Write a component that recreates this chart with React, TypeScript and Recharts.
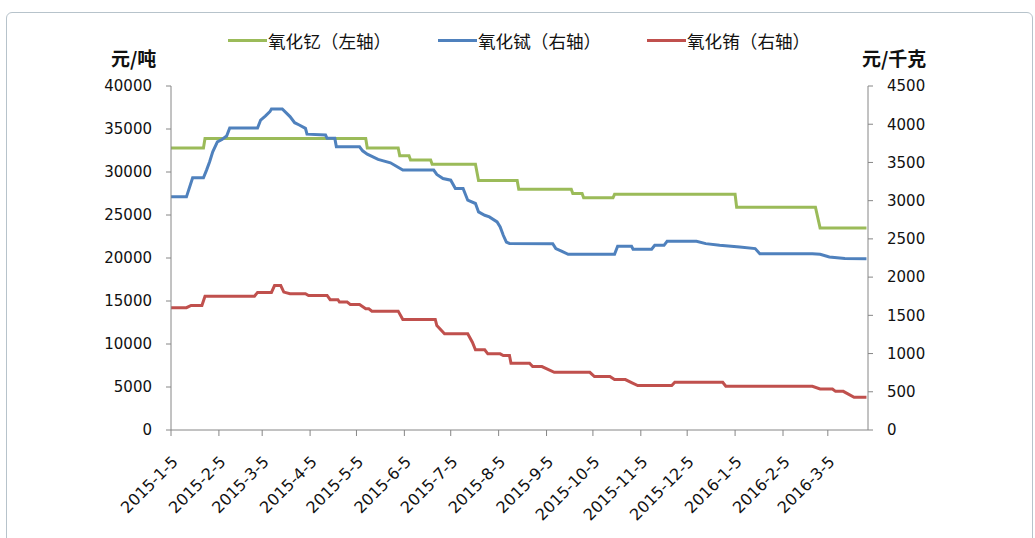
import { LineChart, Line, XAxis, YAxis } from 'recharts'

// x axis: date labels (monthly ticks)
const tickDates = [
  '2015-1-5', '2015-2-5', '2015-3-5', '2015-4-5', '2015-5-5', '2015-6-5', '2015-7-5', '2015-8-5',
  '2015-9-5', '2015-10-5', '2015-11-5', '2015-12-5', '2016-1-5', '2016-2-5', '2016-3-5',
]
const endDate = '2016-3-31'

const leftTicks = [0, 5000, 10000, 15000, 20000, 25000, 30000, 35000, 40000]
const rightTicks = [0, 500, 1000, 1500, 2000, 2500, 3000, 3500, 4000, 4500]

// 氧化钇 (元/吨, left axis)
const yttriumDates = [
  '2015-1-5', '2015-1-26', '2015-1-27', '2015-5-11', '2015-5-12', '2015-6-1', '2015-6-2', '2015-6-8',
  '2015-6-9', '2015-6-22', '2015-6-23', '2015-7-21', '2015-7-23', '2015-8-17', '2015-8-18', '2015-9-21',
  '2015-9-22', '2015-9-28', '2015-9-29', '2015-10-18', '2015-10-19', '2016-1-5', '2016-1-6', '2016-2-26',
  '2016-2-29', '2016-3-30',
]
const yttriumValues = [
  32800, 32800, 33900, 33900, 32800, 32800, 31900, 31900,
  31400, 31400, 30900, 30900, 29000, 29000, 28000, 28000,
  27500, 27500, 27000, 27000, 27400, 27400, 25900, 25900,
  23500, 23500,
]

// 氧化铽 (元/千克, right axis)
const terbiumDates = [
  '2015-1-5', '2015-1-15', '2015-1-19', '2015-1-26', '2015-1-28', '2015-1-30', '2015-2-1', '2015-2-4',
  '2015-2-7', '2015-2-10', '2015-2-12', '2015-3-2', '2015-3-4', '2015-3-7', '2015-3-10', '2015-3-11',
  '2015-3-18', '2015-3-23', '2015-3-26', '2015-3-29', '2015-4-2', '2015-4-3', '2015-4-15', '2015-4-16',
  '2015-4-21', '2015-4-22', '2015-5-7', '2015-5-9', '2015-5-12', '2015-5-19', '2015-5-27', '2015-6-4',
  '2015-6-24', '2015-6-26', '2015-6-30', '2015-7-5', '2015-7-8', '2015-7-13', '2015-7-16', '2015-7-21',
  '2015-7-23', '2015-7-27', '2015-7-30', '2015-8-4', '2015-8-6', '2015-8-8', '2015-8-10', '2015-8-12',
  '2015-9-9', '2015-9-11', '2015-9-15', '2015-9-19', '2015-10-19', '2015-10-21', '2015-10-30', '2015-10-31',
  '2015-11-12', '2015-11-14', '2015-11-20', '2015-11-22', '2015-12-11', '2015-12-17', '2015-12-26', '2016-1-8',
  '2016-1-18', '2016-1-21', '2016-2-24', '2016-2-29', '2016-3-6', '2016-3-16', '2016-3-30',
]
const terbiumValues = [
  3050, 3050, 3300, 3300, 3400, 3510, 3640, 3770,
  3800, 3845, 3950, 3950, 4055, 4107, 4164, 4200,
  4200, 4100, 4020, 3990, 3946, 3870, 3858, 3815,
  3815, 3705, 3705, 3652, 3609, 3540, 3495, 3400,
  3400, 3343, 3290, 3268, 3159, 3159, 3006, 2963,
  2853, 2809, 2787, 2722, 2656, 2547, 2459, 2440,
  2438, 2373, 2337, 2298, 2298, 2403, 2403, 2364,
  2364, 2416, 2416, 2469, 2469, 2438, 2416, 2394,
  2373, 2307, 2307, 2298, 2263, 2242, 2240,
]

// 氧化铕 (元/千克, right axis)
const europiumDates = [
  '2015-1-5', '2015-1-15', '2015-1-18', '2015-1-25', '2015-1-27', '2015-2-28', '2015-3-2', '2015-3-11',
  '2015-3-13', '2015-3-17', '2015-3-19', '2015-3-23', '2015-4-2', '2015-4-4', '2015-4-16', '2015-4-18',
  '2015-4-23', '2015-4-24', '2015-4-29', '2015-5-1', '2015-5-7', '2015-5-11', '2015-5-13', '2015-5-15',
  '2015-6-1', '2015-6-4', '2015-6-25', '2015-6-26', '2015-7-1', '2015-7-16', '2015-7-19', '2015-7-21',
  '2015-7-27', '2015-7-29', '2015-8-6', '2015-8-8', '2015-8-12', '2015-8-13', '2015-8-25', '2015-8-27',
  '2015-9-2', '2015-9-10', '2015-10-3', '2015-10-6', '2015-10-16', '2015-10-19', '2015-10-26', '2015-10-30',
  '2015-11-3', '2015-11-25', '2015-11-27', '2015-12-28', '2015-12-30', '2016-2-24', '2016-2-29', '2016-3-8',
  '2016-3-10', '2016-3-15', '2016-3-22', '2016-3-30',
]
const europiumValues = [
  1600, 1600, 1630, 1630, 1750, 1750, 1800, 1800,
  1890, 1890, 1804, 1783, 1783, 1760, 1760, 1704,
  1704, 1673, 1673, 1643, 1643, 1586, 1586, 1555,
  1555, 1446, 1446, 1367, 1258, 1258, 1148, 1049,
  1049, 996, 996, 974, 974, 873, 873, 830,
  830, 755, 755, 699, 699, 659, 659, 620,
  581, 581, 624, 624, 572, 572, 537, 537,
  506, 506, 427, 427,
]

const DAY = 86400000
const toDay = (s: string) => {
  const [y, m, d] = s.split('-').map(Number)
  return Math.round((Date.UTC(y, m - 1, d) - Date.UTC(2015, 0, 5)) / DAY)
}
const build = (dates: string[], values: number[]) => dates.map((d, i) => ({ day: toDay(d), v: values[i] }))

const tickDays = tickDates.map(toDay)
const labelByDay: Record<number, string> = {}
tickDates.forEach((d) => { labelByDay[toDay(d)] = d })

const series = [
  { name: '氧化钇（左轴）', color: '#9bbb59', axis: 'left', data: build(yttriumDates, yttriumValues) },
  { name: '氧化铽（右轴）', color: '#4f81bd', axis: 'right', data: build(terbiumDates, terbiumValues) },
  { name: '氧化铕（右轴）', color: '#c0504d', axis: 'right', data: build(europiumDates, europiumValues) },
]

const axisColor = '#868686'
const tickFont = { fontSize: 15, fontFamily: 'DejaVu Sans', fill: '#111' }
const cjk = '"Noto Sans CJK SC", sans-serif'

const DateTick = ({ x, y, payload }: any) => (
  <text
    x={x + 4}
    y={y + 21}
    transform={`rotate(-45, ${x + 4}, ${y + 21})`}
    textAnchor="end"
    dominantBaseline="central"
    fontSize={16}
    fontFamily="DejaVu Sans"
    fill="#111"
  >
    {labelByDay[payload.value]}
  </text>
)

const legendX = [228, 438, 647]

export default function App() {
  return (
    <div style={{ position: 'absolute', left: 0, top: 0, width: 1035, height: 538, background: '#fff', overflow: 'hidden' }}>
      <div style={{ position: 'absolute', left: 6, top: 12, width: 1027, height: 540, border: '1.5px solid #b7c3cb', borderRadius: 6, boxSizing: 'border-box' }} />
      {series.map((s, i) => (
        <div key={s.name} style={{ position: 'absolute', left: legendX[i], top: 28, height: 24, display: 'flex', alignItems: 'center', fontFamily: cjk, fontSize: 17.6, color: '#111', whiteSpace: 'nowrap' }}>
          <span style={{ display: 'inline-block', width: 39, height: 3, background: s.color, marginRight: 1 }} />
          {s.name}
        </div>
      ))}
      <div style={{ position: 'absolute', left: 111, top: 44, fontFamily: cjk, fontSize: 19, fontWeight: 700, color: '#111' }}>元/吨</div>
      <div style={{ position: 'absolute', left: 862, top: 44, fontFamily: cjk, fontSize: 19, fontWeight: 700, color: '#111' }}>元/千克</div>
      <div style={{ position: 'absolute', left: 0, top: 0 }}>
        <LineChart width={1035} height={538} margin={{ top: 86, right: 60, bottom: 0, left: 0 }}>
          <XAxis
            type="number"
            dataKey="day"
            domain={[0, toDay(endDate)]}
            ticks={tickDays}
            tick={<DateTick />}
            interval={0}
            height={108}
            stroke={axisColor}
            tickSize={6}
            tickMargin={2}
            allowDataOverflow
          />
          <YAxis
            yAxisId="left"
            domain={[0, 40000]}
            ticks={leftTicks}
            interval={0}
            width={171}
            stroke={axisColor}
            tickSize={5}
            tickMargin={14}
            tick={tickFont}
          />
          <YAxis
            yAxisId="right"
            orientation="right"
            domain={[0, 4500]}
            ticks={rightTicks}
            interval={0}
            width={107}
            stroke={axisColor}
            tickSize={5}
            tickMargin={14}
            tick={tickFont}
          />
          {series.map((s) => (
            <Line
              key={s.name}
              data={s.data}
              dataKey="v"
              yAxisId={s.axis}
              type="linear"
              stroke={s.color}
              strokeWidth={3}
              dot={false}
              activeDot={false}
              isAnimationActive={false}
            />
          ))}
        </LineChart>
      </div>
    </div>
  )
}
